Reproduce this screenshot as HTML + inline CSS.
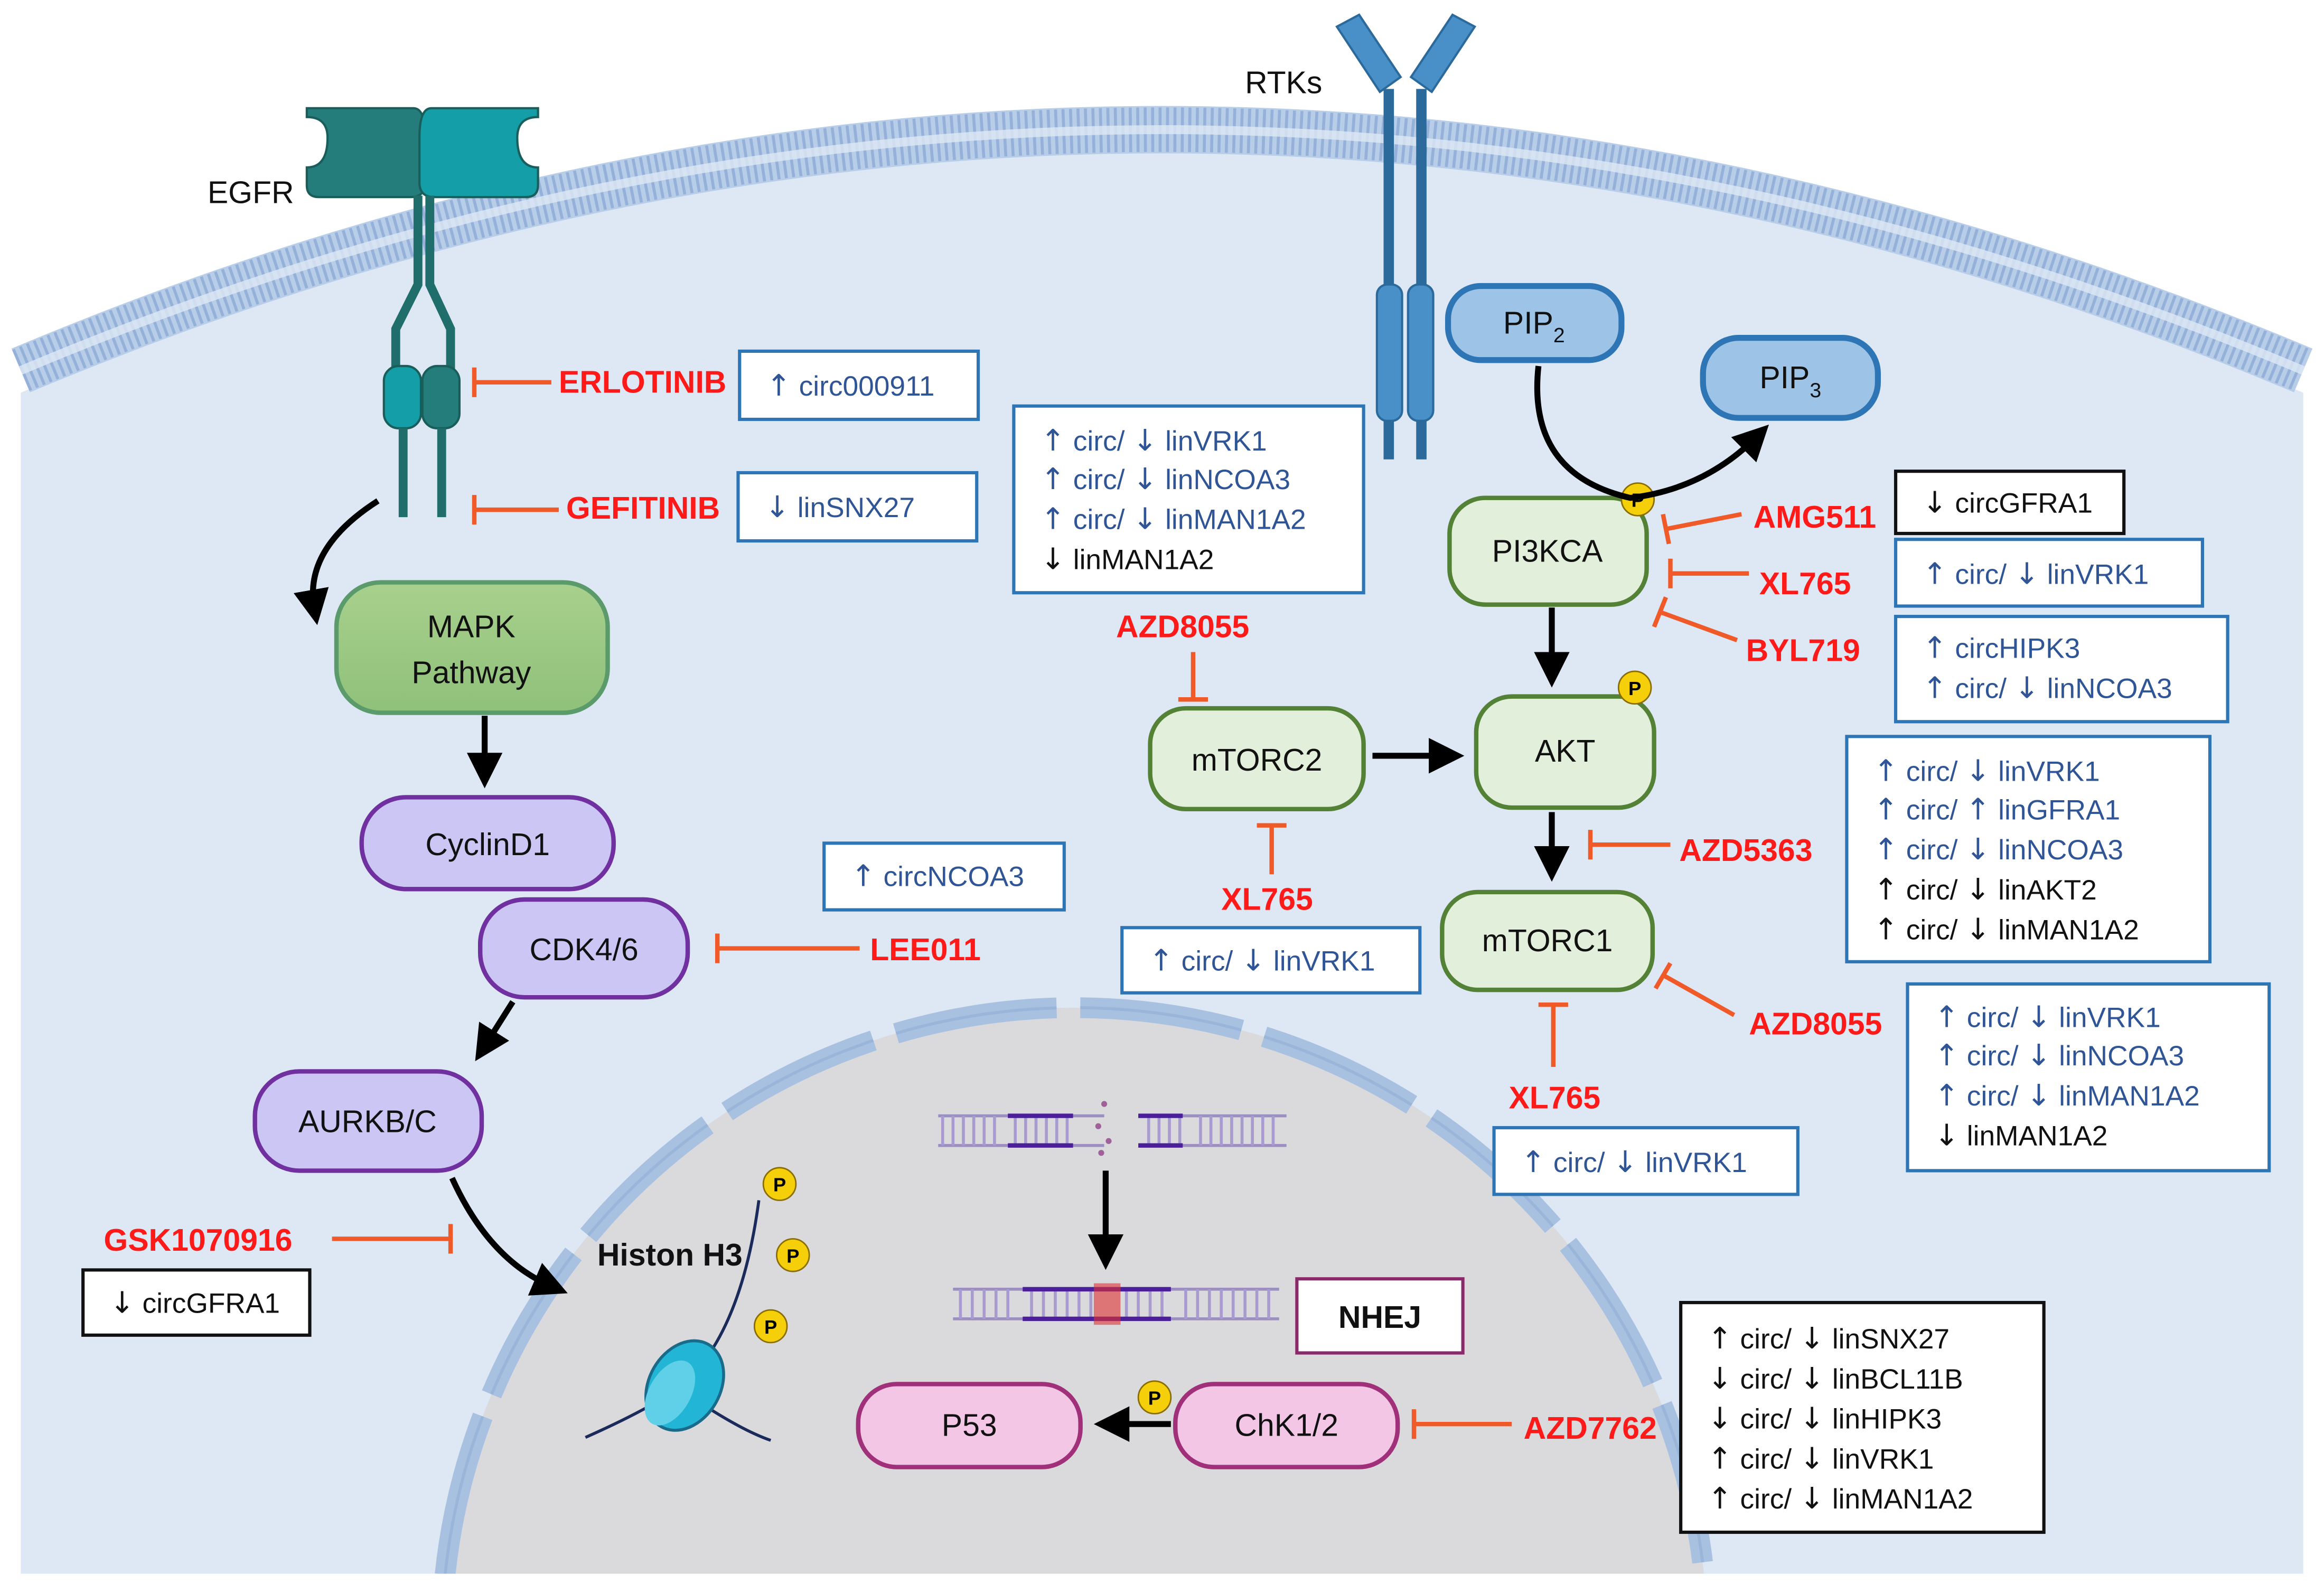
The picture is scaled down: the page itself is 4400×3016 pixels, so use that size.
<!DOCTYPE html>
<html><head><meta charset="utf-8"><style>
html,body{margin:0;padding:0;background:#fff;width:4400px;height:3016px;overflow:hidden;}
svg{display:block;}
text{font-family:"Liberation Sans",sans-serif;}
.d{fill:#ff1a1a;font-weight:bold;font-size:21px;}
.b{fill:#2f5597;font-size:19px;}
.k{fill:#111;font-size:19px;}
.n{fill:#111;font-size:21px;text-anchor:middle;}
.a{font-family:"DejaVu Sans",sans-serif;font-size:20px;}
.inh{stroke:#f05a28;stroke-width:3;fill:none;}
.bx{fill:#fff;stroke:#2e75b6;stroke-width:2.2;}
.bk{fill:#fff;stroke:#111;stroke-width:2.2;}
.ar{stroke:#000;stroke-width:4;fill:none;}
</style></head><body>
<svg width="4400" height="3016" viewBox="0 0 1568 1075" preserveAspectRatio="none" xmlns="http://www.w3.org/2000/svg">
<defs>
<marker id="ah" markerWidth="6" markerHeight="6" refX="3" refY="3" orient="auto" markerUnits="strokeWidth"><path d="M0,0 L6,3 L0,6 z" fill="#000"/></marker>
<linearGradient id="gm" x1="0" y1="0" x2="0" y2="1"><stop offset="0" stop-color="#a8d08d"/><stop offset="1" stop-color="#8fc17a"/></linearGradient>
</defs>
<path d="M14,265 Q784,-60 1554,265 L1554,1062 L14,1062 Z" fill="#dde8f4"/>
<path d="M14,250 Q784,-75 1554,250" fill="none" stroke="#b7cde8" stroke-width="32"/>
<path d="M14,250 Q784,-75 1554,250" fill="none" stroke="#7f9fd0" stroke-width="30" stroke-dasharray="2 3" opacity="0.6"/>
<path d="M14,250 Q784,-75 1554,250" fill="none" stroke="#dde8f4" stroke-width="6" opacity="0.8"/>
<clipPath id="cc"><rect x="14" y="0" width="1540" height="1062"/></clipPath>
<g clip-path="url(#cc)">
<circle cx="725" cy="1107" r="427" fill="#dadadd"/>
<circle cx="725" cy="1107" r="427" fill="none" stroke="#a9c1e0" stroke-width="14" stroke-dasharray="110 16"/>
<circle cx="725" cy="1107" r="427" fill="none" stroke="#8faed6" stroke-width="2" stroke-dasharray="110 16" opacity="0.6"/>
</g>
<path d="M207,73 h72 q8,0 8,20 v30 q0,10 -10,10 h-62 q-8,0 -8,-8 v-12 q14,0 14,-20 q0,-14 -14,-14 z" fill="#247d7a" stroke="#1a5e5b" stroke-width="1.5"/>
<path d="M363,73 h-72 q-8,0 -8,20 v30 q0,10 10,10 h62 q8,0 8,-8 v-12 q-14,0 -14,-20 q0,-14 14,-14 z" fill="#139ea8" stroke="#1a5e5b" stroke-width="1.5"/>
<path d="M282,132 v60 l-15,30 v30 M290,132 v60 l14,30 v30" stroke="#1f6e6b" stroke-width="6" fill="none"/>
<rect x="259" y="247" width="25" height="42" rx="10" fill="#139ea8" stroke="#1a5e5b" stroke-width="1.5"/>
<rect x="285" y="247" width="25" height="42" rx="10" fill="#247d7a" stroke="#1a5e5b" stroke-width="1.5"/>
<path d="M272,289 v60 M298,289 v60" stroke="#1f6e6b" stroke-width="6"/>
<text x="140" y="137" font-size="21" fill="#111">EGFR</text>
<path d="M902,18 l15,-8 l28,42 l-14,10 z M995,18 l-15,-8 l-28,42 l14,10 z" fill="#4a90c8" stroke="#2c6a9c" stroke-width="1.5"/>
<path d="M937,60 v250 M959,60 v250" stroke="#2c6a9c" stroke-width="7"/>
<rect x="929" y="192" width="17" height="92" rx="7" fill="#4a90c8" stroke="#2c6a9c" stroke-width="1.5"/>
<rect x="950" y="192" width="17" height="92" rx="7" fill="#4a90c8" stroke="#2c6a9c" stroke-width="1.5"/>
<text x="840" y="63" font-size="21" fill="#111">RTKs</text>
<rect x="227" y="393" width="183" height="88" rx="30" fill="url(#gm)" stroke="#5b9b6b" stroke-width="3"/>
<text class="n" x="318" y="430" font-size="22">MAPK</text><text class="n" x="318" y="461" font-size="22">Pathway</text>
<rect x="244" y="538" width="170" height="62" rx="30" fill="#ccc6f5" stroke="#7030a0" stroke-width="3"/><text class="n" x="329" y="577">CyclinD1</text>
<rect x="324" y="607" width="140" height="66" rx="30" fill="#ccc6f5" stroke="#7030a0" stroke-width="3"/><text class="n" x="394" y="648">CDK4/6</text>
<rect x="172" y="723" width="153" height="67" rx="30" fill="#ccc6f5" stroke="#7030a0" stroke-width="3"/><text class="n" x="248" y="764">AURKB/C</text>
<rect x="977" y="193" width="117" height="50" rx="22" fill="#9dc3e6" stroke="#2e75b6" stroke-width="4"/><text class="n" x="1035" y="225">PIP<tspan font-size="14" dy="6">2</tspan></text>
<rect x="1149" y="228" width="118" height="54" rx="24" fill="#9dc3e6" stroke="#2e75b6" stroke-width="4"/><text class="n" x="1208" y="262">PIP<tspan font-size="14" dy="6">3</tspan></text>
<rect x="978" y="336" width="133" height="72" rx="24" fill="#e2efda" stroke="#538135" stroke-width="3"/><text class="n" x="1044" y="379">PI3KCA</text>
<rect x="996" y="470" width="120" height="75" rx="24" fill="#e2efda" stroke="#538135" stroke-width="3"/><text class="n" x="1056" y="514">AKT</text>
<rect x="776" y="478" width="144" height="68" rx="24" fill="#e2efda" stroke="#538135" stroke-width="3"/><text class="n" x="848" y="520">mTORC2</text>
<rect x="973" y="602" width="142" height="66" rx="24" fill="#e2efda" stroke="#538135" stroke-width="3"/><text class="n" x="1044" y="642">mTORC1</text>
<rect x="579" y="934" width="150" height="56" rx="26" fill="#f4c6e6" stroke="#a0307a" stroke-width="3"/><text class="n" x="654" y="969">P53</text>
<rect x="793" y="934" width="150" height="56" rx="26" fill="#f4c6e6" stroke="#a0307a" stroke-width="3"/><text class="n" x="868" y="969">ChK1/2</text>
<rect x="875" y="863" width="112" height="50" fill="#fff" stroke="#8b2a6b" stroke-width="2.2"/><text class="n" x="931" y="896" font-weight="bold">NHEJ</text>
<g font-size="13" text-anchor="middle" font-weight="bold">
<circle cx="1105" cy="337" r="11" fill="#f5cf0a" stroke="#8a6d00"/><text x="1105" y="342">P</text>
<circle cx="1103" cy="464" r="11" fill="#f5cf0a" stroke="#8a6d00"/><text x="1103" y="469">P</text>
<circle cx="779" cy="943" r="11" fill="#f5cf0a" stroke="#8a6d00"/><text x="779" y="948">P</text>
<circle cx="526" cy="799" r="11" fill="#f5cf0a" stroke="#8a6d00"/><text x="526" y="804">P</text>
<circle cx="535" cy="847" r="11" fill="#f5cf0a" stroke="#8a6d00"/><text x="535" y="852">P</text>
<circle cx="520" cy="895" r="11" fill="#f5cf0a" stroke="#8a6d00"/><text x="520" y="900">P</text>
</g>
<text x="403" y="854" font-size="21" font-weight="bold" fill="#111">Histon H3</text>
<path d="M395,970 Q440,950 460,935 Q500,900 512,810 M470,945 Q500,965 520,972" stroke="#1a2a5a" stroke-width="2" fill="none"/>
<ellipse cx="462" cy="935" rx="24" ry="32" transform="rotate(30 462 935)" fill="#22b5d6" stroke="#1a6a8a" stroke-width="2"/>
<ellipse cx="452" cy="940" rx="14" ry="24" transform="rotate(30 452 940)" fill="#5fd0e8"/>
<g stroke-width="2">
<path d="M633,753 h112 M633,773 h112 M768,753 h100 M768,773 h100" stroke="#9b8fc0"/>
<path d="M636,753 v20 M643,753 v20 M650,753 v20 M657,753 v20 M664,753 v20 M671,753 v20 M685,753 v20 M692,753 v20 M699,753 v20 M706,753 v20 M713,753 v20 M720,753 v20 M775,753 v20 M782,753 v20 M789,753 v20 M796,753 v20 M810,753 v20 M817,753 v20 M824,753 v20 M831,753 v20 M838,753 v20 M845,753 v20 M852,753 v20 M859,753 v20" stroke="#a89bd0"/>
<path d="M680,753 h44 M680,773 h44 M768,753 h30 M768,773 h30" stroke="#4b1f9a" stroke-width="3"/>
<path d="M643,870 h220 M643,890 h220" stroke="#9b8fc0"/>
<path d="M648,870 v20 M656,870 v20 M664,870 v20 M672,870 v20 M680,870 v20 M696,870 v20 M704,870 v20 M712,870 v20 M720,870 v20 M728,870 v20 M736,870 v20 M760,870 v20 M768,870 v20 M776,870 v20 M784,870 v20 M800,870 v20 M808,870 v20 M816,870 v20 M824,870 v20 M832,870 v20 M840,870 v20 M848,870 v20 M856,870 v20" stroke="#a89bd0"/>
<path d="M690,870 h100 M690,890 h100" stroke="#4b1f9a" stroke-width="3"/>
<rect x="738" y="866" width="18" height="28" fill="#e03030" opacity="0.6"/>
<circle cx="745" cy="745" r="2" fill="#a0609a"/><circle cx="741" cy="760" r="2" fill="#a0609a"/><circle cx="748" cy="770" r="2" fill="#a0609a"/><circle cx="743" cy="778" r="2" fill="#a0609a"/>
</g>
<path d="M255,338 Q205,370 212,410" class="ar" stroke-width="2.5" marker-end="url(#ah)"/>
<path d="M327,483 V520" class="ar" marker-end="url(#ah)"/>
<path d="M346,676 L327,706" class="ar" marker-end="url(#ah)"/>
<path d="M305,795 Q330,850 372,868" class="ar" stroke-width="2.5" marker-end="url(#ah)"/>
<path d="M1047,410 V452" class="ar" marker-end="url(#ah)"/>
<path d="M926,510 H976" class="ar" marker-end="url(#ah)"/>
<path d="M1047,548 V583" class="ar" marker-end="url(#ah)"/>
<path d="M1038,247 Q1030,320 1100,336 Q1150,330 1185,295" class="ar" marker-end="url(#ah)"/>
<path d="M790,961 H750" class="ar" marker-end="url(#ah)"/>
<path d="M746,790 V845" class="ar" stroke-width="2.5" marker-end="url(#ah)"/>
<path class="inh" d="M372,258 H320 M320,248 V268"/>
<path class="inh" d="M377,344 H320 M320,334 V354"/>
<path class="inh" d="M1175,347 L1124,357 M1122,347 L1126,367"/>
<path class="inh" d="M1180,387 H1127 M1127,377 V397"/>
<path class="inh" d="M1172,432 L1120,413 M1124,403 L1116,423"/>
<path class="inh" d="M805,440 V472 M795,472 H815"/>
<path class="inh" d="M1127,570 H1073 M1073,560 V580"/>
<path class="inh" d="M858,590 V557 M848,557 H868"/>
<path class="inh" d="M580,640 H484 M484,630 V650"/>
<path class="inh" d="M1170,685 L1122,658 M1127,650 L1117,667"/>
<path class="inh" d="M1048,720 V678 M1038,678 H1058"/>
<path class="inh" d="M224,836 H304 M304,826 V846"/>
<path class="inh" d="M1020,961 H954 M954,951 V971"/>
<text class="d" x="377" y="265">ERLOTINIB</text>
<text class="d" x="382" y="350">GEFITINIB</text>
<text class="d" x="1183" y="356">AMG511</text>
<text class="d" x="1187" y="401">XL765</text>
<text class="d" x="1178" y="446">BYL719</text>
<text class="d" x="753" y="430">AZD8055</text>
<text class="d" x="1133" y="581">AZD5363</text>
<text class="d" x="824" y="614">XL765</text>
<text class="d" x="587" y="648">LEE011</text>
<text class="d" x="1180" y="698">AZD8055</text>
<text class="d" x="1018" y="748">XL765</text>
<text class="d" x="70" y="844">GSK1070916</text>
<text class="d" x="1028" y="971">AZD7762</text>
<rect class="bx" x="499" y="237" width="161" height="46"/><text class="b" x="517" y="267"><tspan class="a">↑</tspan> circ000911</text>
<rect class="bx" x="498" y="319" width="161" height="46"/><text class="b" x="516" y="349"><tspan class="a">↓</tspan> linSNX27</text>
<rect class="bx" x="684" y="274" width="236" height="126"/>
<text class="b" x="702" y="304"><tspan class="a">↑</tspan> circ/ <tspan class="a">↓</tspan> linVRK1</text>
<text class="b" x="702" y="330"><tspan class="a">↑</tspan> circ/ <tspan class="a">↓</tspan> linNCOA3</text>
<text class="b" x="702" y="357"><tspan class="a">↑</tspan> circ/ <tspan class="a">↓</tspan> linMAN1A2</text>
<text class="k" x="702" y="384"><tspan class="a">↓</tspan> linMAN1A2</text>
<rect class="bk" x="1279" y="318" width="154" height="42"/><text class="k" x="1297" y="346"><tspan class="a">↓</tspan> circGFRA1</text>
<rect class="bx" x="1279" y="364" width="207" height="45"/><text class="b" x="1297" y="394"><tspan class="a">↑</tspan> circ/ <tspan class="a">↓</tspan> linVRK1</text>
<rect class="bx" x="1279" y="416" width="224" height="71"/>
<text class="b" x="1297" y="444"><tspan class="a">↑</tspan> circHIPK3</text>
<text class="b" x="1297" y="471"><tspan class="a">↑</tspan> circ/ <tspan class="a">↓</tspan> linNCOA3</text>
<rect class="bx" x="1246" y="497" width="245" height="152"/>
<text class="b" x="1264" y="527"><tspan class="a">↑</tspan> circ/ <tspan class="a">↓</tspan> linVRK1</text>
<text class="b" x="1264" y="553"><tspan class="a">↑</tspan> circ/ <tspan class="a">↑</tspan> linGFRA1</text>
<text class="b" x="1264" y="580"><tspan class="a">↑</tspan> circ/ <tspan class="a">↓</tspan> linNCOA3</text>
<text class="k" x="1264" y="607"><tspan class="a">↑</tspan> circ/ <tspan class="a">↓</tspan> linAKT2</text>
<text class="k" x="1264" y="634"><tspan class="a">↑</tspan> circ/ <tspan class="a">↓</tspan> linMAN1A2</text>
<rect class="bx" x="1287" y="664" width="244" height="126"/>
<text class="b" x="1305" y="693"><tspan class="a">↑</tspan> circ/ <tspan class="a">↓</tspan> linVRK1</text>
<text class="b" x="1305" y="719"><tspan class="a">↑</tspan> circ/ <tspan class="a">↓</tspan> linNCOA3</text>
<text class="b" x="1305" y="746"><tspan class="a">↑</tspan> circ/ <tspan class="a">↓</tspan> linMAN1A2</text>
<text class="k" x="1305" y="773"><tspan class="a">↓</tspan> linMAN1A2</text>
<rect class="bx" x="556" y="569" width="162" height="45"/><text class="b" x="574" y="598"><tspan class="a">↑</tspan> circNCOA3</text>
<rect class="bx" x="757" y="626" width="201" height="44"/><text class="b" x="775" y="655"><tspan class="a">↑</tspan> circ/ <tspan class="a">↓</tspan> linVRK1</text>
<rect class="bx" x="1008" y="761" width="205" height="45"/><text class="b" x="1026" y="791"><tspan class="a">↑</tspan> circ/ <tspan class="a">↓</tspan> linVRK1</text>
<rect class="bk" x="56" y="857" width="153" height="44"/><text class="k" x="74" y="886"><tspan class="a">↓</tspan> circGFRA1</text>
<rect class="bk" x="1134" y="879" width="245" height="155"/>
<text class="k" x="1152" y="910"><tspan class="a">↑</tspan> circ/ <tspan class="a">↓</tspan> linSNX27</text>
<text class="k" x="1152" y="937"><tspan class="a">↓</tspan> circ/ <tspan class="a">↓</tspan> linBCL11B</text>
<text class="k" x="1152" y="964"><tspan class="a">↓</tspan> circ/ <tspan class="a">↓</tspan> linHIPK3</text>
<text class="k" x="1152" y="991"><tspan class="a">↑</tspan> circ/ <tspan class="a">↓</tspan> linVRK1</text>
<text class="k" x="1152" y="1018"><tspan class="a">↑</tspan> circ/ <tspan class="a">↓</tspan> linMAN1A2</text>
</svg>
</body></html>
